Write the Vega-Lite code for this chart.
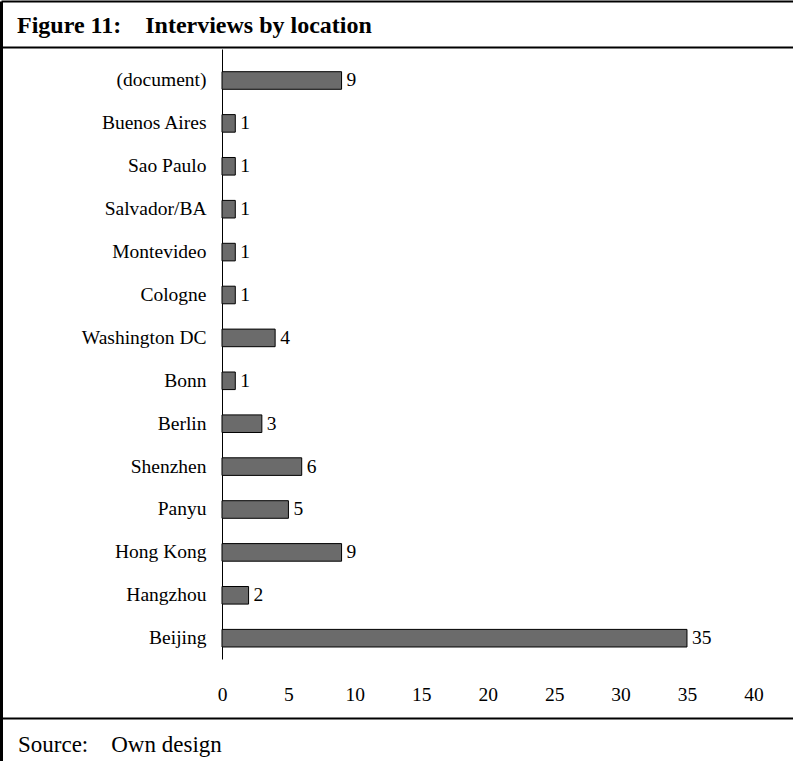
{
  "$schema": "https://vega.github.io/schema/vega-lite/v6.json",
  "width": 792,
  "height": 760,
  "autosize": {"type": "none"},
  "padding": {"left": 1, "top": 1, "right": 0, "bottom": 0},
  "background": "white",
  "config": {
    "view": {"stroke": null},
    "font": "Liberation Serif",
    "axis": {"labelFont": "Liberation Serif", "titleFont": "Liberation Serif"}
  },
  "data": {
    "values": [
      {"location": "(document)", "count": 9},
      {"location": "Buenos Aires", "count": 1},
      {"location": "Sao Paulo", "count": 1},
      {"location": "Salvador/BA", "count": 1},
      {"location": "Montevideo", "count": 1},
      {"location": "Cologne", "count": 1},
      {"location": "Washington DC", "count": 4},
      {"location": "Bonn", "count": 1},
      {"location": "Berlin", "count": 3},
      {"location": "Shenzhen", "count": 6},
      {"location": "Panyu", "count": 5},
      {"location": "Hong Kong", "count": 9},
      {"location": "Hangzhou", "count": 2},
      {"location": "Beijing", "count": 35}
    ]
  },
  "layer": [
    {
      "mark": {"type": "point", "opacity": 0},
      "encoding": {
        "x": {
          "datum": 0,
          "type": "quantitative",
          "scale": {"domain": [0, 1]},
          "axis": {
            "orient": "top",
            "domain": true,
            "domainColor": "black",
            "domainWidth": 2,
            "ticks": false,
            "labels": false,
            "grid": false,
            "title": "Figure 11:\u00a0\u00a0\u00a0\u00a0Interviews by location",
            "titleX": 15.5,
            "titleY": 31.5,
            "titleAlign": "left",
            "titleBaseline": "alphabetic",
            "titleFontSize": 24,
            "titleFontWeight": "bold",
            "titleColor": "black"
          }
        },
        "y": {
          "datum": 0,
          "type": "quantitative",
          "scale": {"domain": [0, 760], "reverse": true},
          "axis": {
            "orient": "left",
            "domain": true,
            "domainColor": "black",
            "domainWidth": 3,
            "ticks": false,
            "labels": false,
            "grid": true,
            "values": [46.3, 717],
            "gridColor": "black",
            "gridWidth": 2,
            "gridOpacity": 1,
            "title": null
          }
        }
      }
    },
    {
      "layer": [
        {
          "mark": {"type": "bar", "fill": "#6b6b6b", "stroke": "black", "strokeWidth": 1},
          "encoding": {
            "y": {
              "field": "location",
              "type": "nominal",
              "sort": null,
              "scale": {"range": [48, 658], "paddingInner": 0.59, "paddingOuter": 0.4045, "align": 0.654},
              "axis": {
                "orient": "left",
                "offset": -221,
                "title": null,
                "domainColor": "black",
                "domainWidth": 1,
                "ticks": false,
                "tickSize": 0,
                "labelPadding": 16,
                "labelFontSize": 19.5,
                "labelColor": "black",
                "labelLimit": 300
              }
            },
            "x": {
              "field": "count",
              "type": "quantitative",
              "scale": {"domain": [0, 40], "range": [221, 752.4], "nice": false, "zero": true},
              "axis": {
                "orient": "bottom",
                "offset": -102,
                "values": [0, 5, 10, 15, 20, 25, 30, 35, 40],
                "domain": false,
                "ticks": false,
                "tickSize": 0,
                "grid": false,
                "labelPadding": 41.8,
                "labelBaseline": "alphabetic",
                "labelFontSize": 19.5,
                "labelColor": "black",
                "labelFlush": false,
                "labelOverlap": false,
                "title": "Source:\u00a0\u00a0\u00a0\u00a0Own design",
                "titleX": 16.5,
                "titleY": 92,
                "titleAlign": "left",
                "titleBaseline": "alphabetic",
                "titleFontSize": 23,
                "titleFontWeight": "normal",
                "titleColor": "black"
              }
            }
          }
        },
        {
          "mark": {"type": "text", "align": "left", "baseline": "middle", "dx": 5, "font": "Liberation Serif", "fontSize": 19.5, "color": "black"},
          "encoding": {
            "y": {"field": "location", "type": "nominal", "sort": null},
            "x": {"field": "count", "type": "quantitative"},
            "text": {"field": "count", "type": "quantitative"}
          }
        }
      ]
    }
  ],
  "resolve": {
    "scale": {"x": "independent", "y": "independent"},
    "axis": {"x": "independent", "y": "independent"}
  }
}
